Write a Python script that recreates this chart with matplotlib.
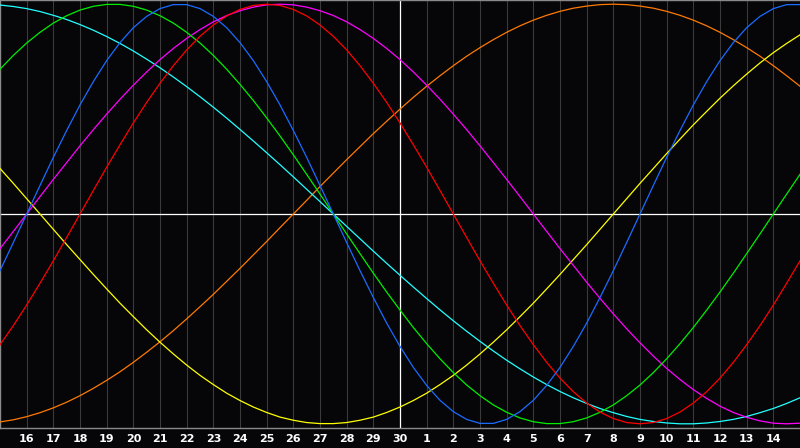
import numpy as np
import matplotlib.pyplot as plt

# days shown across the chart (first and last are unlabeled edges)
days = [15, 16, 17, 18, 19, 20, 21, 22, 23, 24, 25, 26, 27, 28, 29, 30,
        1, 2, 3, 4, 5, 6, 7, 8, 9, 10, 11, 12, 13, 14, 15]

# curve values read every half day, from the left edge to the right edge
blue = [-0.270, -0.136,
        0.000, 0.136, 0.270, 0.398, 0.520, 0.631, 0.731, 0.817, 0.888, 0.942, 0.979, 0.998,
        0.998, 0.979, 0.942, 0.888, 0.817, 0.731, 0.631, 0.520, 0.398, 0.270, 0.136,
        0.000, -0.136, -0.270, -0.398, -0.520, -0.631, -0.731, -0.817, -0.888, -0.942, -0.979,
        -0.998, -0.998, -0.979, -0.942, -0.888, -0.817, -0.731, -0.631, -0.520, -0.398, -0.270,
        -0.136, 0.000, 0.136, 0.270, 0.398, 0.520, 0.631, 0.731, 0.817, 0.888, 0.942, 0.979,
        0.998, 0.998]
red = [-0.623, -0.532, -0.434, -0.330, -0.223, -0.112,
       0.000, 0.112, 0.223, 0.330, 0.434, 0.532, 0.623, 0.707, 0.782, 0.847, 0.901, 0.944,
       0.975, 0.994, 1.000, 0.994, 0.975, 0.944, 0.901, 0.847, 0.782, 0.707, 0.623, 0.532,
       0.434, 0.330, 0.223, 0.112,
       0.000, -0.112, -0.223, -0.330, -0.434, -0.532, -0.623, -0.707, -0.782, -0.847, -0.901,
       -0.944, -0.975, -0.994, -1.000, -0.994, -0.975, -0.944, -0.901, -0.847, -0.782, -0.707,
       -0.623, -0.532, -0.434, -0.330, -0.223]
green = [0.690, 0.756, 0.815, 0.866, 0.910, 0.945, 0.972, 0.990, 0.999, 0.999, 0.990, 0.972,
         0.945, 0.910, 0.866, 0.815, 0.756, 0.690, 0.618, 0.541, 0.458, 0.372, 0.282, 0.189,
         0.095,
         0.000, -0.095, -0.189, -0.282, -0.372, -0.458, -0.541, -0.618, -0.690, -0.756, -0.815,
         -0.866, -0.910, -0.945, -0.972, -0.990, -0.999, -0.999, -0.990, -0.972, -0.945, -0.910,
         -0.866, -0.815, -0.756, -0.690, -0.618, -0.541, -0.458, -0.372, -0.282, -0.189, -0.095,
         0.000, 0.095, 0.189]
magenta = [-0.165, -0.083,
           0.000, 0.083, 0.165, 0.245, 0.325, 0.402, 0.476, 0.547, 0.614, 0.677, 0.736, 0.789,
           0.837, 0.879, 0.916, 0.946, 0.969, 0.986, 0.997, 1.000, 0.997, 0.986, 0.969, 0.946,
           0.916, 0.879, 0.837, 0.789, 0.736, 0.677, 0.614, 0.547, 0.476, 0.402, 0.325, 0.245,
           0.165, 0.083,
           0.000, -0.083, -0.165, -0.245, -0.325, -0.402, -0.476, -0.547, -0.614, -0.677, -0.736,
           -0.789, -0.837, -0.879, -0.916, -0.946, -0.969, -0.986, -0.997, -1.000, -0.997]
yellow = [0.217, 0.146, 0.073, 0.000,
          -0.073, -0.146, -0.217, -0.288, -0.357, -0.425, -0.489, -0.552, -0.611, -0.667, -0.720,
          -0.769, -0.813, -0.854, -0.889, -0.920, -0.946, -0.968, -0.983, -0.994, -0.999, -0.999,
          -0.994, -0.983, -0.968, -0.946, -0.920, -0.889, -0.854, -0.813, -0.769, -0.720, -0.667,
          -0.611, -0.552, -0.489, -0.425, -0.357, -0.288, -0.217, -0.146, -0.073,
          0.000, 0.073, 0.146, 0.217, 0.288, 0.357, 0.425, 0.489, 0.552, 0.611, 0.667, 0.720,
          0.769, 0.813, 0.854]
orange = [-0.991, -0.981, -0.966, -0.947, -0.924, -0.897, -0.866, -0.831, -0.793, -0.752, -0.707,
          -0.659, -0.609, -0.556, -0.500, -0.442, -0.383, -0.321, -0.259, -0.195, -0.131, -0.065,
          0.000, 0.065, 0.131, 0.195, 0.259, 0.321, 0.383, 0.442, 0.500, 0.556, 0.609, 0.659,
          0.707, 0.752, 0.793, 0.831, 0.866, 0.897, 0.924, 0.947, 0.966, 0.981, 0.991, 0.998,
          1.000, 0.998, 0.991, 0.981, 0.966, 0.947, 0.924, 0.897, 0.866, 0.831, 0.793, 0.752,
          0.707, 0.659, 0.609]
cyan = [0.996, 0.989, 0.979, 0.965, 0.947, 0.927, 0.903, 0.876, 0.846, 0.813, 0.777, 0.738,
        0.697, 0.653, 0.607, 0.559, 0.509, 0.457, 0.403, 0.348, 0.292, 0.235, 0.177, 0.118,
        0.059,
        0.000, -0.059, -0.118, -0.177, -0.235, -0.292, -0.348, -0.403, -0.457, -0.509, -0.559,
        -0.607, -0.653, -0.697, -0.738, -0.777, -0.813, -0.846, -0.876, -0.903, -0.927, -0.947,
        -0.965, -0.979, -0.989, -0.996, -1.000, -1.000, -0.996, -0.989, -0.979, -0.965, -0.947,
        -0.927, -0.903, -0.876]

bg = '#060609'
x = np.arange(len(days))
xh = np.arange(len(blue)) * 0.5

fig = plt.figure(figsize=(8, 4.48), dpi=100, facecolor=bg)
ax = fig.add_axes([0, 20/448, 1, 428/448])
ax.set_facecolor(bg)

for i in x[1:-1]:
    ax.axvline(i, color='#3a3a3a', lw=0.8, zorder=1)
ax.axhline(0, color='white', lw=0.9, zorder=2)
ax.axvline(15, color='white', lw=0.9, zorder=2)

series = [(orange, '#ff7a00'), (yellow, '#ffff00'), (cyan, '#22ffff'),
          (magenta, '#ff00ff'), (green, '#00ee00'), (red, '#ff0000'), (blue, '#1a6cff')]
for vals, col in series:
    ax.plot(xh, vals, color=col, lw=0.9, zorder=3)

ax.set_xlim(0, 30)
ax.set_ylim(-1.02, 1.02)
ax.set_yticks([])
ax.set_xticks(x[1:-1])
ax.set_xticklabels([str(d) for d in days[1:-1]], color='white', fontsize=8,
                   fontweight='bold', family='DejaVu Sans')
ax.tick_params(axis='x', length=0, pad=4)
for s in ax.spines.values():
    s.set_color('#8a8a8a')
    s.set_linewidth(1)
ax.spines['right'].set_visible(False)

fig.savefig('out.png', dpi=100, facecolor=bg)
